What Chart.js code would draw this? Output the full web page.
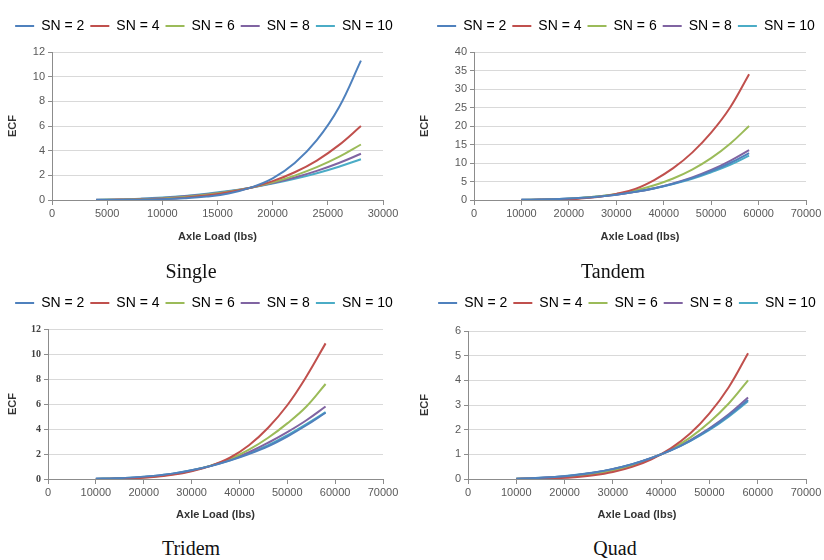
<!DOCTYPE html>
<html><head><meta charset="utf-8">
<script src="https://cdn.jsdelivr.net/npm/chart.js@4.4.1/dist/chart.umd.min.js"></script>
<style>
html,body{margin:0;padding:0;background:#fff}
body{width:824px;height:560px;position:relative;overflow:hidden}
.box{position:absolute}
.cap{position:absolute;font-family:"Liberation Serif","Times New Roman",serif;font-size:20px;color:#111;transform:translate(-50%,-50%);white-space:nowrap}
</style></head>
<body>
<div class="box" style="left:0;top:0;width:412px;height:250px"><canvas id="c1" width="412" height="250"></canvas></div>
<div class="box" style="left:412px;top:0;width:412px;height:250px"><canvas id="c2" width="412" height="250"></canvas></div>
<div class="box" style="left:0;top:280px;width:412px;height:250px"><canvas id="c3" width="412" height="250"></canvas></div>
<div class="box" style="left:412px;top:280px;width:412px;height:250px"><canvas id="c4" width="412" height="250"></canvas></div>
<div class="cap" style="left:191px;top:271px">Single</div>
<div class="cap" style="left:613px;top:271px">Tandem</div>
<div class="cap" style="left:191px;top:548px">Tridem</div>
<div class="cap" style="left:615px;top:548px">Quad</div>
<script>
// ---- data ----
const seriesLabels = ['SN = 2', 'SN = 4', 'SN = 6', 'SN = 8', 'SN = 10'];
const seriesColors = ['#4F81BD', '#C0504D', '#9BBB59', '#8064A2', '#4BACC6'];

const singleLoads = [4000, 6000, 8000, 10000, 12000, 14000, 16000, 18000, 20000, 22000, 24000, 26000, 28000];
const singleSN2  = [0.002, 0.01, 0.03, 0.07, 0.15, 0.28, 0.52, 1.0, 1.75, 3.0, 4.85, 7.5, 11.3];
const singleSN4  = [0.003, 0.012, 0.035, 0.09, 0.19, 0.36, 0.62, 1.0, 1.53, 2.25, 3.2, 4.45, 6.0];
const singleSN6  = [0.006, 0.024, 0.064, 0.13, 0.25, 0.43, 0.67, 1.0, 1.43, 1.98, 2.66, 3.49, 4.5];
const singleSN8  = [0.011, 0.04, 0.09, 0.17, 0.3, 0.47, 0.7, 1.0, 1.37, 1.82, 2.36, 3.0, 3.75];
const singleSN10 = [0.017, 0.05, 0.11, 0.2, 0.33, 0.51, 0.73, 1.0, 1.33, 1.72, 2.17, 2.7, 3.3];

const tandemLoads = [10000, 14000, 18000, 22000, 26000, 30000, 34000, 38000, 42000, 46000, 50000, 54000, 58000];
const tandemSN2  = [0.045, 0.12, 0.27, 0.52, 0.9, 1.45, 2.2, 3.15, 4.4, 5.9, 7.8, 10.0, 12.7];
const tandemSN4  = [0.01, 0.04, 0.13, 0.35, 0.8, 1.65, 3.0, 5.4, 8.6, 12.8, 18.2, 25.0, 34.0];
const tandemSN6  = [0.025, 0.09, 0.23, 0.49, 0.93, 1.6, 2.6, 4.0, 5.8, 8.2, 11.3, 15.2, 20.0];
const tandemSN8  = [0.04, 0.11, 0.25, 0.5, 0.88, 1.44, 2.2, 3.2, 4.5, 6.1, 8.1, 10.6, 13.5];
const tandemSN10 = [0.05, 0.13, 0.28, 0.54, 0.92, 1.46, 2.2, 3.1, 4.3, 5.7, 7.5, 9.5, 12.0];

const tridemLoads = [10000, 14000, 18000, 22000, 26000, 30000, 34000, 38000, 42000, 46000, 50000, 54000, 58000];
const tridemSN2  = [0.03, 0.06, 0.13, 0.25, 0.43, 0.7, 1.04, 1.48, 2.0, 2.62, 3.4, 4.3, 5.3];
const tridemSN4  = [0.005, 0.02, 0.06, 0.15, 0.33, 0.62, 1.05, 1.7, 2.7, 4.1, 5.9, 8.2, 10.85];
const tridemSN6  = [0.01, 0.03, 0.08, 0.18, 0.37, 0.66, 1.07, 1.6, 2.35, 3.3, 4.45, 5.8, 7.6];
const tridemSN8  = [0.02, 0.05, 0.11, 0.22, 0.4, 0.68, 1.05, 1.55, 2.15, 2.9, 3.75, 4.7, 5.8];
const tridemSN10 = [0.03, 0.06, 0.13, 0.25, 0.43, 0.7, 1.05, 1.5, 2.05, 2.7, 3.5, 4.4, 5.35];

const quadLoads = [10000, 14000, 18000, 22000, 26000, 30000, 34000, 38000, 42000, 46000, 50000, 54000, 58000];
const quadSN2  = [0.013, 0.036, 0.08, 0.152, 0.257, 0.4, 0.595, 0.85, 1.165, 1.55, 2.02, 2.57, 3.2];
const quadSN4  = [0.002, 0.01, 0.03, 0.073, 0.15, 0.28, 0.49, 0.8, 1.24, 1.84, 2.66, 3.72, 5.1];
const quadSN6  = [0.006, 0.02, 0.05, 0.11, 0.2, 0.34, 0.54, 0.83, 1.2, 1.68, 2.3, 3.06, 4.0];
const quadSN8  = [0.012, 0.034, 0.077, 0.147, 0.25, 0.4, 0.59, 0.85, 1.17, 1.57, 2.05, 2.62, 3.3];
const quadSN10 = [0.014, 0.039, 0.085, 0.158, 0.264, 0.41, 0.6, 0.85, 1.16, 1.54, 1.99, 2.53, 3.15];

const xTitle = 'Axle Load (lbs)';
const yTitle = 'ECF';

// ---- drawing ----
Chart.defaults.font.family = "'Liberation Sans', Arial, sans-serif";
Chart.defaults.animation = false;

const legendTweak = {
  id: 'legendTweak',
  beforeInit(chart, args, opts) {
    const lg = chart.legend;
    const fit = lg.fit;
    lg.fit = function () {
      const mw = this.maxWidth;
      this.maxWidth = 5000;
      fit.call(this);
      this.maxWidth = mw;
      this.width = mw;
      this.height += opts.extra;
    };
    const draw = lg.draw;
    lg.draw = function () {
      const ctx = this.ctx;
      const l = this.left, r = this.right;
      this.left = l - 300; this.right = r + 300;
      ctx.save(); ctx.translate(opts.dx, 0);
      draw.call(this);
      ctx.restore();
      this.left = l; this.right = r;
    };
  }
};

function makeChart(id, loads, series, g) {
  const W = 412, H = 250;
  const padL = 2, legPad = 6, legFont = 14;
  const padTop = g.legY - legPad - legFont / 2;
  const extra = g.top - (padTop + legFont + legPad + 10);
  const dx = g.legX - (padL + g.right) / 2;
  const datasets = series.map((vals, i) => ({
    label: seriesLabels[i],
    data: loads.map((x, k) => ({ x: x, y: vals[k] })),
    borderColor: seriesColors[i],
    backgroundColor: seriesColors[i],
    borderWidth: 2,
    pointRadius: 0,
    tension: 0.4,
    fill: false
  }));
  return new Chart(document.getElementById(id), {
    type: 'line',
    data: { datasets },
    plugins: [legendTweak],
    options: {
      responsive: false,
      layout: { padding: { left: padL, right: W - g.right, top: padTop, bottom: 0 } },
      plugins: {
        legendTweak: { extra: extra, dx: dx },
        tooltip: { enabled: false },
        legend: {
          display: true,
          position: 'top',
          labels: {
            boxWidth: 19, boxHeight: 2, padding: legPad,
            color: '#262626',
            font: { size: legFont },
            generateLabels(chart) {
              return chart.data.datasets.map((d, i) => ({
                text: d.label, fillStyle: d.borderColor, strokeStyle: d.borderColor,
                lineWidth: 0, hidden: false, datasetIndex: i
              }));
            }
          }
        }
      },
      scales: {
        x: {
          type: 'linear', min: 0, max: g.xMax,
          afterFit(s) { s.height = H - g.bottom; },
          ticks: { stepSize: g.xStep, format: { useGrouping: false }, color: '#595959', font: { size: 11 }, padding: 2, maxRotation: 0, autoSkip: false },
          grid: { drawOnChartArea: false, drawTicks: true, tickLength: 5, color: '#8c8c8c', tickColor: '#8c8c8c' },
          border: { display: true, color: '#8c8c8c', width: 1 },
          title: { display: true, text: xTitle, color: '#333', font: { size: 11, weight: 'bold' }, padding: { top: 2, bottom: g.xTitlePad } }
        },
        y: {
          type: 'linear', min: 0, max: g.yMax,
          afterFit(s) { s.width = g.left - padL; },
          ticks: { stepSize: g.yStep, format: { useGrouping: false }, color: g.yTickColor || '#595959', font: g.yTickFont || { size: 11 }, padding: 3 },
          grid: { color: '#d9d9d9', tickColor: '#8c8c8c', tickLength: 4, drawTicks: true },
          border: { display: true, color: '#8c8c8c', width: 1 },
          title: { display: true, text: yTitle, color: '#333', font: { size: 11, weight: 'bold' }, padding: { top: 4, bottom: 2 } }
        }
      }
    }
  });
}

makeChart('c1', singleLoads, [singleSN2, singleSN4, singleSN6, singleSN8, singleSN10],
  { left: 52, right: 383, top: 52, bottom: 200, legY: 26, legX: 204, xMax: 30000, xStep: 5000, yMax: 12, yStep: 2, xTitlePad: 6 });
makeChart('c2', tandemLoads, [tandemSN2, tandemSN4, tandemSN6, tandemSN8, tandemSN10],
  { left: 62, right: 394, top: 52, bottom: 200, legY: 26, legX: 214, xMax: 70000, xStep: 10000, yMax: 40, yStep: 5, xTitlePad: 6 });
makeChart('c3', tridemLoads, [tridemSN2, tridemSN4, tridemSN6, tridemSN8, tridemSN10],
  { left: 48, right: 383, top: 49, bottom: 199, legY: 23, legX: 204, xMax: 70000, xStep: 10000, yMax: 12, yStep: 2, xTitlePad: 8,
    yTickFont: { family: "'Liberation Serif', 'Times New Roman', serif", size: 10, weight: 'bold' }, yTickColor: '#404040' });
makeChart('c4', quadLoads, [quadSN2, quadSN4, quadSN6, quadSN8, quadSN10],
  { left: 56, right: 394, top: 51, bottom: 199, legY: 23, legX: 215, xMax: 70000, xStep: 10000, yMax: 6, yStep: 1, xTitlePad: 8 });
</script>
</body></html>
